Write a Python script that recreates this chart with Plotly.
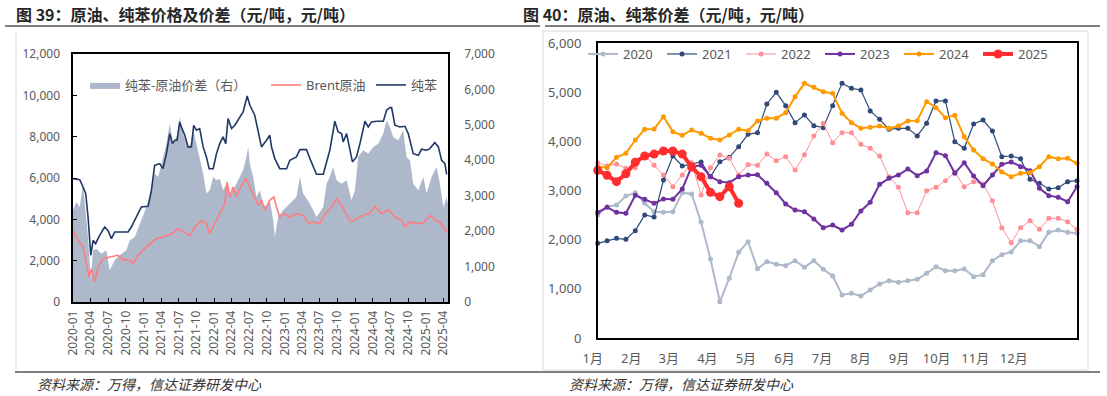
import plotly.graph_objects as go

W, H = 1107, 396
FONT = "Noto Sans, Noto Sans CJK SC, sans-serif"
CJK = "Noto Sans CJK SC, sans-serif"
GRAY = "#595959"

# ---------------- Left panel data (图 39) ----------------
bz_dates = ["2020-01-01","2020-02-05","2020-02-22","2020-03-07","2020-03-19","2020-04-02","2020-04-14","2020-04-27","2020-05-18","2020-06-13","2020-06-30","2020-07-18","2020-08-04","2020-10-12","2020-10-29","2020-11-24","2020-12-20",
            "2021-01-24","2021-02-10","2021-02-27","2021-03-25","2021-04-11","2021-04-29","2021-05-16","2021-05-30","2021-06-11","2021-06-23","2021-07-07","2021-07-15","2021-08-02","2021-08-19","2021-09-05","2021-09-17","2021-10-01","2021-10-18","2021-11-05","2021-11-22","2021-12-06","2021-12-27",
            "2022-01-13","2022-01-30","2022-02-16","2022-03-02","2022-03-14","2022-04-01","2022-04-18","2022-05-14","2022-05-31","2022-06-21","2022-07-05","2022-07-30","2022-08-17","2022-09-03","2022-09-29","2022-10-16","2022-10-25","2022-11-11","2022-12-07",
            "2023-01-11","2023-01-28","2023-03-03","2023-03-21","2023-04-24","2023-05-12","2023-06-15","2023-07-20","2023-08-23","2023-09-18","2023-10-05","2023-10-23","2023-10-31","2023-11-18","2023-12-05","2023-12-18",
            "2024-01-08","2024-01-26","2024-02-21","2024-03-09","2024-03-26","2024-04-21","2024-05-26","2024-06-12","2024-06-29","2024-07-08","2024-07-25","2024-08-20","2024-09-15","2024-10-02","2024-10-28","2024-11-23","2024-12-10",
            "2025-01-05","2025-01-22","2025-02-17","2025-03-07","2025-03-24","2025-04-10","2025-04-19"]
bz_vals = [5971,5920,5565,5243,4113,2260,2986,2822,3226,3629,3468,3065,3387,3387,3629,4113,4597,
           4630,5404,6615,6693,6451,7177,8149,7665,7826,7826,8713,8471,8068,7504,7504,8552,8310,8391,7504,7020,6451,6451,
           7177,7665,7988,7665,8873,8391,8552,8955,9197,9968,9520,9036,8229,7504,7826,8068,7504,6939,6451,
           6451,6855,7020,7375,7375,6939,6181,6181,7342,8746,8229,8149,7745,8149,7342,6777,
           7020,7665,8746,8471,8713,8746,8746,9278,9407,9407,8552,8471,8503,8149,7177,7097,7391,
           7342,7423,7713,7504,6855,6693,6181]

brent_dates = ["2020-01-01","2020-01-27","2020-02-22","2020-03-10","2020-03-24","2020-04-05","2020-04-22","2020-05-10","2020-06-04","2020-07-09","2020-08-21","2020-09-16","2020-10-21","2020-11-07","2020-12-03",
               "2021-01-15","2021-03-08","2021-04-11","2021-06-02","2021-06-28","2021-08-02","2021-08-28","2021-09-23","2021-10-27","2021-11-22","2021-12-09",
               "2022-01-04","2022-02-08","2022-02-25","2022-03-09","2022-03-23","2022-04-09","2022-04-26","2022-05-14","2022-05-31","2022-06-14","2022-07-05","2022-07-30","2022-08-17","2022-09-03","2022-09-20","2022-10-16","2022-11-06","2022-11-20","2022-12-07",
               "2023-01-02","2023-01-28","2023-03-03","2023-04-07","2023-05-03","2023-05-29","2023-07-02","2023-07-28","2023-09-01","2023-09-27","2023-10-23","2023-11-18","2023-12-13",
               "2024-01-08","2024-02-12","2024-03-17","2024-04-12","2024-05-17","2024-06-21","2024-07-25","2024-08-29","2024-09-15","2024-10-11","2024-11-14","2024-12-19",
               "2025-01-22","2025-02-17","2025-03-15","2025-04-02","2025-04-15","2025-04-26"]
brent_vals = [3469,2986,2664,1857,1210,1613,968,1694,2099,2180,2260,2049,2018,1857,2260,
              2664,3065,3146,3339,3549,3387,3226,3629,3952,3791,3307,
              3791,4436,4759,5807,5081,5565,5081,5485,5726,5968,5565,5081,4678,4920,4436,4920,5081,4597,4113,
              4275,4113,4275,4194,3791,3871,3791,4275,4597,5001,4678,4194,3871,
              4033,4194,4275,4630,4275,4468,4113,3952,3629,3871,3791,3823,
              4194,3952,3871,3629,3387,3469]

spread_dates = ["2020-01-01","2020-01-18","2020-02-05","2020-02-22","2020-03-07","2020-03-19","2020-04-02","2020-04-14","2020-05-01","2020-05-27","2020-06-22","2020-07-09","2020-08-04","2020-08-30","2020-10-03","2020-10-21","2020-11-16","2020-12-12",
                "2021-01-15","2021-02-10","2021-02-27","2021-03-17","2021-04-11","2021-04-29","2021-05-16","2021-06-02","2021-06-20","2021-07-07","2021-07-24","2021-08-10","2021-08-28","2021-09-14","2021-10-01","2021-10-18","2021-11-05","2021-11-22","2021-12-09","2021-12-27",
                "2022-01-13","2022-01-30","2022-02-16","2022-03-06","2022-03-23","2022-04-09","2022-04-26","2022-05-14","2022-05-31","2022-06-17","2022-06-26","2022-07-05","2022-07-22","2022-08-08","2022-08-25","2022-09-12","2022-09-29","2022-10-16","2022-11-03","2022-11-11","2022-11-28","2022-12-24",
                "2023-01-28","2023-03-03","2023-03-21","2023-04-07","2023-05-12","2023-06-15","2023-07-20","2023-08-06","2023-08-23","2023-09-09","2023-09-27","2023-10-23","2023-11-18","2023-12-13","2023-12-31",
                "2024-01-17","2024-02-12","2024-03-09","2024-04-04","2024-04-30","2024-05-26","2024-06-12","2024-06-29","2024-07-16","2024-08-11","2024-09-06","2024-09-23","2024-10-11","2024-10-28","2024-11-23","2024-12-19",
                "2025-01-05","2025-01-31","2025-02-26","2025-03-15","2025-04-02","2025-04-19","2025-04-26"]
spread_vals = [2588,2823,2682,3341,2494,1835,612,1459,1506,1365,1459,894,1177,1318,1459,1741,1835,2212,
               2682,3153,3624,3529,4094,4470,5035,4470,4659,5223,4753,4470,4377,4847,4470,4094,3624,3059,3153,3529,
               3435,3482,3153,3341,3059,3153,3341,3529,3718,4094,4377,3906,3529,2965,3153,2776,2682,2870,2306,1835,2400,2588,
               2776,2965,3529,3059,2776,2400,2682,3341,3529,3812,3435,3341,3435,2870,3153,
               4094,4282,4188,4377,4470,4753,5129,4941,4659,4565,4847,4094,4000,3341,3153,3529,
               3059,3529,3812,3341,2682,2965,2776]

# ---------------- Right panel data (图 40) ----------------
weeks = list(range(52))
y2020 = [2502,2671,2705,2888,2956,2739,2570,2556,2570,2956,2929,2353,1607,739,1214,1742,1959,1410,1553,1499,1471,1573,1437,1573,1397,
         1261,875,909,854,976,1098,1166,1133,1166,1193,1315,1451,1369,1369,1403,1248,1288,1573,1695,1749,1980,1980,1858,2149,2197,2149,2129]
y2021 = [1925,1980,2027,2007,2183,2502,2461,3214,3702,3498,3539,3580,3282,3587,3675,3892,4143,4176,4760,4997,4726,4380,4536,4319,4278,
         4726,5180,5078,5044,4617,4448,4244,4265,4265,4109,4366,4821,4821,3993,3858,4353,4434,4210,3688,3702,3647,3228,3146,3031,3058,3180,3200]
y2022 = [3566,3498,3539,3451,3465,3722,3512,3315,3078,3315,3566,2909,3465,3722,3654,3315,3526,3512,3743,3607,3688,3417,3729,4109,4366,
         3973,4176,4176,3939,3858,3702,3282,3065,2549,2549,2997,3065,3200,3370,3078,3180,3132,2793,2244,1939,2244,2387,2210,2434,2434,2366,2210]
y2023 = [2556,2658,2556,2536,2902,2821,2739,2828,2821,3031,3485,3512,3282,3180,3160,3282,3316,3322,3146,2956,2726,2604,2570,2420,2244,
         2298,2197,2312,2583,2760,3126,3248,3315,3437,3302,3397,3770,3709,3350,3566,3295,3098,3315,3532,3580,3485,3404,3044,2895,2861,2773,3078]
y2024 = [3485,3465,3675,3756,4027,4244,4251,4502,4197,4122,4231,4163,4062,4027,4129,4244,4217,4414,4468,4468,4583,4909,5180,5099,5010,
         4977,4570,4380,4265,4285,4312,4265,4312,4414,4421,4807,4685,4481,4529,4095,3824,3647,3539,3377,3282,3350,3363,3485,3688,3647,3654,3553]
y2025 = [3410,3310,3180,3340,3576,3702,3740,3804,3804,3740,3478,3282,2963,2875,3078,2739]
months = ["1月","2月","3月","4月","5月","6月","7月","8月","9月","10月","11月","12月"]
month_pos = [0, 4.1, 8.1, 12.2, 16.3, 20.4, 24.4, 28.5, 32.6, 36.6, 40.7, 44.8]


def px(x):
    return x / W


def py(y):
    return 1 - y / H


fig = go.Figure()

# Left panel traces
fig.add_trace(go.Scatter(x=spread_dates, y=spread_vals, name="纯苯-原油价差（右）",
                         mode="lines", line=dict(width=0, color="#adb9ca"),
                         fill="tozeroy", fillcolor="#adb9ca",
                         xaxis="x", yaxis="y", legend="legend"))
fig.add_trace(go.Scatter(x=brent_dates, y=brent_vals, name="Brent原油", mode="lines",
                         line=dict(color="#ff7c80", width=1.6),
                         xaxis="x", yaxis="y2", legend="legend2"))
fig.add_trace(go.Scatter(x=bz_dates, y=bz_vals, name="纯苯", mode="lines",
                         line=dict(color="#203864", width=1.6),
                         xaxis="x", yaxis="y2", legend="legend3"))

# Right panel traces
series = [("2020", y2020, "#adb9ca", 2.0, 5),
          ("2021", y2021, "#2f4a78", 1.2, 5),
          ("2022", y2022, "#ff8f94", 1.0, 5),
          ("2023", y2023, "#7030a0", 2.0, 5),
          ("2024", y2024, "#ff9900", 2.0, 5),
          ("2025", y2025, "#ff2d2d", 4.0, 9)]
for name, vals, color, lw, ms in series:
    fig.add_trace(go.Scatter(x=weeks[:len(vals)], y=vals, name=name, mode="lines+markers",
                             line=dict(color=color, width=lw),
                             marker=dict(color=color, size=ms),
                             cliponaxis=False,
                             xaxis="x2", yaxis="y3", legend="legend4"))

tick_font = dict(family=FONT, size=12, color=GRAY)
leg_font = dict(family=FONT, size=13, color=GRAY)

fig.update_layout(
    width=W, height=H,
    margin=dict(l=0, r=0, t=0, b=0, autoexpand=False),
    paper_bgcolor="white", plot_bgcolor="white",
    showlegend=True,
    xaxis=dict(domain=[px(73), px(448)], type="date", anchor="y", automargin=False,
               range=["2020-01-01", "2025-04-26"], tick0="2020-01-01", dtick="M3",
               tickformat="%Y-%m", tickangle=-90, ticks="inside", ticklen=4,
               tickcolor="black", showline=True, mirror=True, linecolor="black",
               linewidth=1.5, showgrid=False, zeroline=False, tickfont=tick_font,
               ticklabelstandoff=2),
    yaxis=dict(domain=[py(302), py(54)], range=[0, 7000], dtick=1000, side="right",
               anchor="x", automargin=False, tickformat=",", showgrid=False, zeroline=False,
               showline=True, mirror=True, linecolor="black", linewidth=1.5,
               tickfont=tick_font, ticks="", ticklabelstandoff=12),
    yaxis2=dict(overlaying="y", side="left", anchor="x", automargin=False,
                range=[0, 12000], dtick=2000,
                tickformat=",", showgrid=False, zeroline=False, ticks="inside",
                ticklen=4, tickcolor="black", tickfont=tick_font, ticklabelstandoff=12),
    xaxis2=dict(domain=[px(597.7), px(1077)], anchor="y3", automargin=False, range=[0, 51],
                tickvals=month_pos, ticktext=months, ticks="", showgrid=False,
                zeroline=False, showline=True, mirror=True, linecolor="black",
                linewidth=1.5, tickfont=dict(family=FONT, size=13, color=GRAY),
                ticklabelshift=-5, ticklabelstandoff=8),
    yaxis3=dict(domain=[py(338), py(43)], anchor="x2", automargin=False,
                range=[0, 6000], dtick=1000,
                tickformat=",", showgrid=False, zeroline=False, showline=True,
                mirror=True, linecolor="black", linewidth=1.5, ticks="",
                tickfont=dict(family=FONT, size=13, color=GRAY), ticklabelstandoff=12),
    legend=dict(x=px(85), y=py(85), xanchor="left", yanchor="middle", orientation="h",
                bgcolor="rgba(0,0,0,0)", font=leg_font),
    legend2=dict(x=px(266), y=py(85), xanchor="left", yanchor="middle", orientation="h",
                 bgcolor="rgba(0,0,0,0)", font=leg_font),
    legend3=dict(x=px(371), y=py(85), xanchor="left", yanchor="middle", orientation="h",
                 bgcolor="rgba(0,0,0,0)", font=leg_font),
    legend4=dict(x=px(583), y=py(54), xanchor="left", yanchor="middle", orientation="h",
                 bgcolor="rgba(0,0,0,0)", font=leg_font, entrywidth=34,
                 entrywidthmode="pixels"),
)

# Decorative frames and rules
line_gray = dict(color="#7f7f7f", width=1.8)
frame_gray = dict(color="#d9d9d9", width=1)
shapes = [
    dict(type="line", x0=px(5), x1=px(540), y0=py(26), y1=py(26), line=line_gray),
    dict(type="line", x0=px(545), x1=px(1100), y0=py(26), y1=py(26), line=line_gray),
    dict(type="line", x0=px(15), x1=px(1100), y0=py(372), y1=py(372), line=line_gray),
    dict(type="line", x0=px(16), x1=px(16), y0=py(32), y1=py(370), line=frame_gray),
    dict(type="rect", x0=px(543), x1=px(1088), y0=py(370), y1=py(31), line=frame_gray),
]
for s in shapes:
    s.update(xref="paper", yref="paper", layer="below")
fig.update_layout(shapes=shapes)

title_font = dict(family=CJK, size=16, color="#262626", weight="bold")
foot_font = dict(family=CJK, size=14, color="#333333", style="italic")
fig.add_annotation(text="图 39：原油、纯苯价格及价差（元/吨，元/吨）", x=px(14), y=py(14),
                   xref="paper", yref="paper", xanchor="left", yanchor="middle",
                   showarrow=False, font=title_font)
fig.add_annotation(text="图 40：原油、纯苯价差（元/吨，元/吨）", x=px(521), y=py(14),
                   xref="paper", yref="paper", xanchor="left", yanchor="middle",
                   showarrow=False, font=title_font)
fig.add_annotation(text="资料来源：万得，信达证券研发中心", x=px(35), y=py(384),
                   xref="paper", yref="paper", xanchor="left", yanchor="middle",
                   showarrow=False, font=foot_font)
fig.add_annotation(text="资料来源：万得，信达证券研发中心", x=px(567), y=py(384),
                   xref="paper", yref="paper", xanchor="left", yanchor="middle",
                   showarrow=False, font=foot_font)

fig.write_html("out.html", config={"displayModeBar": False},
               post_script="document.body.style.margin='0';document.body.style.overflow='hidden';")
